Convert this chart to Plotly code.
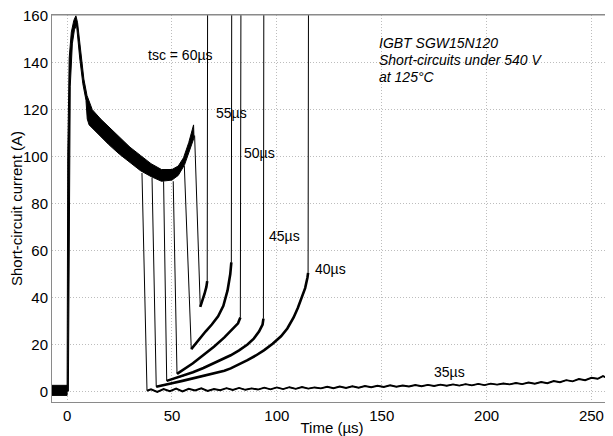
import plotly.graph_objects as go

# common on-state envelope (all six pulses overlap here)
t_pre = [-7.2, 0.0, 0.0, -7.2]
i_pre = [2.6, 2.6, -1.7, -1.7]

t_band_hi = [0.0, 0.3, 1.0, 2.0, 3.2, 4.2, 5.0, 6.3, 8.0, 9.5, 12, 16, 20, 25, 30, 35, 40, 45, 50, 53, 55.5, 58, 60.3]
i_band_hi = [0.0, 100, 142, 153, 158, 160, 157, 146, 133, 126, 120, 116, 112.5, 108, 104, 100.5, 97, 94.5, 94.5, 96, 99.5, 106, 113.5]
t_band_lo = [0.6, 1.5, 2.5, 3.5, 4.5, 6.0, 7.5, 9.0, 9.6, 10.5, 12, 16, 20, 25, 30, 35, 40, 45, 50, 53, 56, 58, 60.5]
i_band_lo = [0.0, 130, 148, 154, 156, 142, 131, 124, 116, 113.5, 112, 108.5, 105, 101, 97.5, 94, 91.5, 89.5, 90, 92, 96.5, 101.5, 108]

# after turn-off: fall, tail current, then failure
t_35 = [35.7, 38.1, 40, 43, 46, 49, 52, 55, 58, 61, 64, 67, 70, 73, 76, 79, 82, 85, 88, 91, 94, 97,
        100, 103, 106, 109, 112, 115, 118, 121, 124, 127, 130, 133, 136, 139, 142, 145, 148, 151,
        154, 157, 160, 163, 166, 169, 172, 175, 178, 181, 184, 187, 190, 193, 196, 199, 202, 205,
        208, 211, 214, 217, 220, 223, 226, 229, 232, 235, 238, 241, 244, 247, 250, 253, 255.5, 256.8, 257.2]
i_35 = [93, 0.3, 0.9, -0.2, 1.0, 0.1, 1.2, 0.0, 1.1, 0.4, 1.3, 0.2, 1.0, 0.5, 1.4, 0.6, 1.5, 0.7, 1.3, 0.8, 1.6, 0.9,
        1.7, 1.0, 1.8, 1.1, 1.9, 1.2, 1.7, 1.3, 2.0, 1.4, 2.1, 1.5, 2.2, 1.6, 2.3, 1.8, 2.4, 1.9,
        2.6, 2.0, 2.5, 2.1, 2.7, 2.2, 2.8, 2.3, 2.9, 2.4, 3.0, 2.5, 3.1, 2.6, 3.2, 2.7, 3.3, 2.9,
        3.4, 3.0, 3.6, 3.1, 3.8, 3.3, 4.0, 3.5, 4.4, 3.9, 4.8, 4.3, 5.3, 4.8, 5.8, 5.4, 6.5, 6.0, 175]

t_40 = [40.5, 42.5, 46, 50, 55, 60, 65, 70, 75, 78, 82, 86, 90, 94, 98, 102, 105, 108, 110, 112, 113.5, 114.6, 114.9, 115.1]
i_40 = [91, 2, 2.8, 3.5, 4.5, 5.5, 6.5, 7.6, 8.8, 9.8, 11.5, 13.3, 15.3, 17.6, 20.3, 23.5, 26.8, 31.5, 35.5, 40, 44, 48.5, 50.5, 175]

t_45 = [46.0, 47.5, 50, 55, 60, 65, 70, 74, 78, 82, 86, 89, 91.5, 93.2, 93.6, 93.8]
i_45 = [89.5, 4.5, 5.2, 6.5, 8.2, 10, 12, 13.6, 15.4, 17.5, 20, 22.5, 25.5, 28.5, 31, 175]

t_50 = [50.6, 52.4, 56, 60, 65, 70, 75, 79, 81.5, 82.6, 82.9]
i_50 = [89.5, 7.5, 9.5, 12, 15.5, 19, 23, 26.5, 29, 31.5, 175]

t_55 = [55.9, 59.2, 60.5, 63, 66, 69, 72, 74.5, 76.5, 77.8, 78.3, 78.5]
i_55 = [96, 18, 19.5, 22.5, 25.5, 28.5, 32, 36.5, 43, 50, 55, 175]

t_60 = [60.8, 63.5, 64.5, 65.5, 66.4, 66.8, 67.0]
i_60 = [109, 36, 38.5, 41.5, 44.5, 47, 175]

pulses = [(t_35, i_35), (t_40, i_40), (t_45, i_45), (t_50, i_50), (t_55, i_55), (t_60, i_60)]
pulse_widths = [1.9, 2.6, 2.6, 2.6, 2.6, 2.6]

labels = ["tsc = 60µs", "55µs", "50µs", "45µs", "40µs", "35µs"]
label_x = [37.6, 69.8, 83.6, 95.2, 117.1, 174.1]
label_y = [143.3, 118.4, 101.4, 66.4, 52.2, 8.2]

info_lines = ["IGBT SGW15N120", "Short-circuits under 540 V", "at 125°C"]
info_x = 147.6
info_y = [148.2, 141.1, 134.0]

fig = go.Figure()

# pre-trigger noise
fig.add_trace(go.Scatter(x=t_pre, y=i_pre, fill='toself', fillcolor='black',
                         mode='lines', line=dict(color='black', width=1), hoverinfo='skip'))

# on-state band
fig.add_trace(go.Scatter(x=t_band_hi + t_band_lo[::-1], y=i_band_hi + i_band_lo[::-1],
                         fill='toself', fillcolor='black', mode='lines',
                         line=dict(color='black', width=1), hoverinfo='skip'))

for (t, i), w in zip(pulses, pulse_widths):
    # whole pulse, thin
    fig.add_trace(go.Scatter(x=t, y=i, mode='lines', line=dict(color='black', width=1)))
    # noisy tail current, thicker
    fig.add_trace(go.Scatter(x=t[1:-1], y=i[1:-1], mode='lines', line=dict(color='black', width=w)))

for txt, x, y in zip(labels, label_x, label_y):
    fig.add_annotation(x=x, y=y, text=txt, showarrow=False, xanchor='left', yanchor='middle',
                       font=dict(size=14, color='black'))

for txt, y in zip(info_lines, info_y):
    fig.add_annotation(x=info_x, y=y, text='<i>' + txt + '</i>', showarrow=False,
                       xanchor='left', yanchor='middle', font=dict(size=14, color='black'))

# page body adds an 8px margin, so the figure is 8px smaller than the window
fig.update_layout(
    width=605, height=428,
    margin=dict(l=44, r=1, t=7, b=34),
    showlegend=False,
    plot_bgcolor='white',
    paper_bgcolor='white',
    font=dict(family='Liberation Sans, Arial, sans-serif', size=15, color='black'),
)

# grey frame line along the top of the plot
fig.add_shape(type='line', xref='paper', yref='paper', x0=0, x1=1, y0=1, y1=1,
              line=dict(color='#8a8a8a', width=1))

fig.update_xaxes(
    range=[-7.2, 259.8], tickvals=[0, 50, 100, 150, 200, 250],
    showgrid=True, gridcolor='#bdbdbd', griddash='1px,2px', gridwidth=1,
    showline=True, linecolor='#8a8a8a', linewidth=1, mirror=True,
    zeroline=False, ticks='', automargin=False, ticklabeloverflow='allow',
    title=dict(text='Time (µs)', standoff=0, font=dict(size=15)),
    tickfont=dict(size=15),
)
fig.update_yaxes(
    range=[-4.5, 160.3], tickvals=[0, 20, 40, 60, 80, 100, 120, 140, 160],
    showgrid=True, gridcolor='#bdbdbd', griddash='1px,2px', gridwidth=1,
    showline=True, linecolor='#8a8a8a', linewidth=1, mirror=True,
    zeroline=False, ticks='', automargin=False, ticklabeloverflow='allow',
    title=dict(text='Short-circuit current (A)', standoff=0, font=dict(size=15)),
    tickfont=dict(size=15),
)

fig.write_html("out.html")
